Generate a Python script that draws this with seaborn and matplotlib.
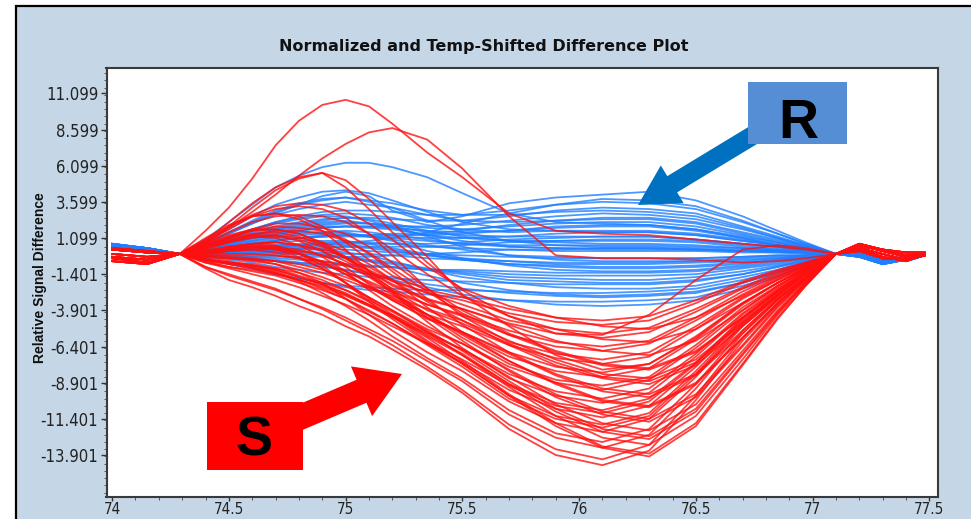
import matplotlib
matplotlib.use("Agg")
import matplotlib.pyplot as plt
import seaborn as sns
import pandas as pd
from matplotlib.patches import FancyArrow, Rectangle
from matplotlib.transforms import IdentityTransform
from matplotlib.ticker import MultipleLocator
from matplotlib import font_manager
from matplotlib.font_manager import FontProperties

# ---------------- data ----------------
X_GRID = [74.0, 74.15, 74.29, 74.4, 74.5, 74.6, 74.7, 74.8, 74.9, 75.0, 75.1, 75.2, 75.35,
          75.5, 75.7, 75.9, 76.1, 76.3, 76.5, 76.7, 76.85, 76.97, 77.1, 77.2, 77.3, 77.4, 77.48]

# "S" (red) difference curves
RED_CURVES = [
    [0.3, 0.1, 0.0, -1.0, -1.8, -2.3, -2.9, -3.6, -4.2, -5.0, -5.7, -6.6, -8.0, -9.6, -12.1, -13.9, -14.6, -13.6, -10.1, -6.0, -3.5, -1.8, 0.0, 0.6, 0.2, -0.2, 0.0],
    [-0.2, -0.4, 0.0, -0.9, -1.4, -1.9, -2.4, -3.1, -3.8, -4.6, -5.4, -6.3, -7.8, -9.4, -11.8, -13.5, -14.2, -13.2, -9.8, -5.8, -3.4, -1.7, 0.0, 0.4, 0.0, -0.4, -0.1],
    [0.0, -0.2, 0.0, -0.4, -0.6, -0.8, -1.1, -1.6, -2.1, -2.7, -3.5, -4.3, -5.8, -7.4, -9.7, -11.7, -13.3, -13.8, -11.7, -7.6, -4.4, -2.2, 0.0, 0.3, -0.2, -0.5, 0.0],
    [-0.5, -0.7, 0.0, -0.9, -1.5, -2.0, -2.5, -3.1, -3.7, -4.4, -5.2, -6.0, -7.4, -8.8, -11.1, -12.7, -13.4, -12.5, -9.3, -5.5, -3.2, -1.6, 0.0, 0.7, 0.3, 0.1, 0.1],
    [0.4, 0.2, 0.0, -0.5, -0.7, -0.9, -1.3, -1.9, -2.7, -3.6, -4.6, -5.7, -7.2, -8.6, -10.8, -12.4, -13.0, -12.1, -9.0, -5.3, -3.1, -1.6, 0.0, 0.5, 0.3, -0.1, 0.0],
    [-0.3, -0.6, 0.0, -0.3, -0.5, -0.8, -1.0, -1.5, -2.0, -2.5, -3.2, -4.0, -5.3, -6.7, -8.8, -10.7, -12.1, -12.6, -10.7, -6.9, -4.0, -2.0, 0.0, 0.2, -0.3, -0.4, -0.1],
    [0.3, 0.1, 0.0, -0.2, -0.3, -0.4, -0.7, -1.3, -2.0, -3.1, -4.2, -5.3, -6.8, -8.1, -10.2, -11.7, -12.3, -11.4, -8.5, -5.0, -3.0, -1.5, 0.0, 0.4, 0.0, -0.4, -0.1],
    [-0.2, -0.4, 0.0, -0.6, -0.9, -1.2, -1.5, -2.0, -2.5, -3.1, -3.9, -4.8, -6.3, -7.8, -10.0, -11.4, -12.0, -11.2, -8.3, -4.9, -2.9, -1.4, 0.0, 0.3, -0.2, -0.5, 0.0],
    [0.0, -0.2, 0.0, 0.1, 0.3, 0.5, 0.5, 0.3, -0.1, -0.7, -1.6, -2.6, -4.4, -6.0, -8.1, -9.9, -11.1, -11.6, -9.9, -6.4, -3.7, -1.9, 0.0, 0.7, 0.3, 0.1, 0.1],
    [-0.5, -0.7, 0.0, -0.6, -1.0, -1.4, -1.8, -2.3, -2.9, -3.5, -4.2, -5.0, -6.2, -7.5, -9.4, -10.7, -11.3, -10.5, -7.8, -4.6, -2.7, -1.4, 0.0, 0.5, 0.3, -0.1, 0.0],
    [0.4, 0.2, 0.0, 0.2, 0.5, 0.7, 0.6, 0.0, -0.8, -2.0, -3.3, -4.5, -6.1, -7.3, -9.1, -10.5, -11.0, -10.2, -7.6, -4.5, -2.6, -1.3, 0.0, 0.2, -0.3, -0.4, -0.1],
    [-0.3, -0.6, 0.0, 0.0, 0.0, 0.0, -0.1, -0.3, -0.7, -1.2, -2.0, -2.8, -4.2, -5.6, -7.4, -9.0, -10.2, -10.6, -9.0, -5.8, -3.4, -1.7, 0.0, 0.6, 0.2, -0.2, 0.0],
    [0.3, 0.1, 0.0, 0.1, 0.4, 0.7, 0.8, 0.6, 0.2, -0.5, -1.4, -2.7, -4.7, -6.5, -8.6, -9.8, -10.3, -9.6, -7.1, -4.2, -2.5, -1.2, 0.0, 0.3, -0.2, -0.5, 0.0],
    [-0.2, -0.4, 0.0, -0.4, -0.6, -0.8, -1.1, -1.6, -2.1, -2.8, -3.6, -4.4, -5.5, -6.6, -8.3, -9.5, -10.0, -9.3, -6.9, -4.1, -2.4, -1.2, 0.0, 0.7, 0.3, 0.1, 0.1],
    [0.0, -0.2, 0.0, 0.5, 1.1, 1.6, 1.9, 1.8, 1.6, 1.0, 0.0, -1.2, -3.1, -4.9, -6.8, -8.3, -9.3, -9.7, -8.3, -5.3, -3.1, -1.6, 0.0, 0.5, 0.3, -0.1, 0.0],
    [-0.5, -0.7, 0.0, 0.0, 0.2, 0.3, 0.1, -0.3, -1.0, -2.0, -3.0, -3.9, -5.2, -6.2, -7.8, -8.9, -9.4, -8.7, -6.5, -3.9, -2.3, -1.1, 0.0, 0.2, -0.3, -0.4, -0.1],
    [0.4, 0.2, 0.0, 0.0, 0.2, 0.3, 0.4, 0.2, -0.1, -0.7, -1.5, -2.6, -4.2, -5.8, -7.6, -8.7, -9.1, -8.5, -6.3, -3.7, -2.2, -1.1, 0.0, 0.6, 0.2, -0.2, 0.0],
    [-0.3, -0.6, 0.0, 1.1, 2.0, 2.6, 2.8, 2.4, 1.6, 0.3, -1.2, -2.5, -3.9, -4.8, -6.2, -7.5, -8.5, -8.8, -7.5, -4.8, -2.8, -1.4, 0.0, 0.4, 0.0, -0.4, -0.1],
    [0.3, 0.1, 0.0, -0.2, -0.3, -0.4, -0.5, -0.7, -1.1, -1.6, -2.2, -3.0, -4.2, -5.5, -7.1, -8.1, -8.5, -7.9, -5.9, -3.5, -2.0, -1.0, 0.0, 0.7, 0.3, 0.1, 0.1],
    [-0.2, -0.4, 0.0, 0.5, 1.0, 1.3, 1.3, 0.9, 0.2, -0.9, -2.1, -3.2, -4.5, -5.4, -6.8, -7.8, -8.2, -7.6, -5.7, -3.4, -2.0, -1.0, 0.0, 0.5, 0.3, -0.1, 0.0],
    [0.0, -0.2, 0.0, 0.6, 1.2, 1.7, 2.1, 2.1, 1.8, 1.4, 0.5, -0.6, -2.4, -3.9, -5.5, -6.7, -7.6, -7.9, -6.7, -4.4, -2.5, -1.3, 0.0, 0.2, -0.3, -0.4, -0.1],
    [-0.5, -0.7, 0.0, 0.1, 0.3, 0.5, 0.4, 0.0, -0.6, -1.4, -2.3, -3.1, -4.2, -5.0, -6.3, -7.2, -7.6, -7.1, -5.2, -3.1, -1.8, -0.9, 0.0, 0.6, 0.2, -0.2, 0.0],
    [0.4, 0.2, 0.0, 0.8, 1.7, 2.6, 3.1, 3.3, 3.1, 2.5, 1.4, -0.1, -2.4, -4.3, -6.1, -6.9, -7.3, -6.8, -5.0, -3.0, -1.8, -0.9, 0.0, 0.4, 0.0, -0.4, -0.1],
    [-0.3, -0.6, 0.0, 0.6, 1.1, 1.4, 1.5, 1.2, 0.6, -0.3, -1.2, -2.1, -3.1, -3.8, -4.9, -6.0, -6.7, -7.0, -6.0, -3.9, -2.2, -1.1, 0.0, 0.3, -0.2, -0.5, 0.0],
    [0.3, 0.1, 0.0, 0.4, 0.9, 1.3, 1.6, 1.6, 1.4, 0.9, 0.1, -1.0, -2.6, -4.1, -5.6, -6.4, -6.7, -6.2, -4.6, -2.8, -1.6, -0.8, 0.0, 0.5, 0.3, -0.1, 0.0],
    [-0.2, -0.4, 0.0, 0.1, 0.3, 0.4, 0.3, 0.0, -0.5, -1.2, -1.9, -2.6, -3.5, -4.2, -5.3, -6.1, -6.4, -6.0, -4.4, -2.6, -1.5, -0.8, 0.0, 0.2, -0.3, -0.4, -0.1],
    [0.0, -0.2, 0.0, 0.7, 1.5, 2.2, 2.6, 2.7, 2.6, 2.2, 1.4, 0.3, -1.4, -2.9, -4.3, -5.2, -5.9, -6.1, -5.2, -3.4, -2.0, -1.0, 0.0, 0.6, 0.2, -0.2, 0.0],
    [-0.5, -0.7, 0.0, 0.6, 1.2, 1.6, 1.7, 1.4, 0.8, -0.2, -1.2, -2.2, -3.2, -3.8, -4.8, -5.5, -5.8, -5.4, -4.0, -2.4, -1.4, -0.7, 0.0, 0.4, 0.0, -0.4, -0.1],
    [0.4, 0.2, 0.0, -0.1, -0.1, -0.1, -0.1, -0.3, -0.5, -0.8, -1.3, -1.8, -2.7, -3.5, -4.6, -5.2, -5.5, -5.1, -3.8, -2.3, -1.3, -0.7, 0.0, 0.3, -0.2, -0.5, 0.0],
    [-0.3, -0.6, 0.0, 0.9, 1.9, 2.7, 3.3, 3.5, 3.4, 3.0, 2.1, 1.0, -0.9, -2.4, -3.6, -4.4, -5.0, -5.2, -4.4, -2.9, -1.7, -0.8, 0.0, 0.7, 0.3, 0.1, 0.1],
    [0.3, 0.1, 0.0, 0.4, 0.8, 1.2, 1.2, 1.0, 0.5, -0.3, -1.1, -1.9, -2.7, -3.2, -4.1, -4.7, -4.9, -4.6, -3.4, -2.0, -1.2, -0.6, 0.0, 0.2, -0.3, -0.4, -0.1],
    [-0.2, -0.4, 0.0, 1.0, 1.9, 2.6, 2.8, 2.6, 1.9, 0.8, -0.4, -1.5, -2.5, -3.0, -3.8, -4.4, -4.6, -4.3, -3.2, -1.9, -1.1, -0.6, 0.0, 0.6, 0.2, -0.2, 0.0],
    [-0.5, -0.7, 0.0, -0.4, -0.6, -0.9, -1.2, -1.8, -2.4, -3.1, -4.0, -4.8, -6.2, -7.6, -9.8, -11.9, -13.4, -14.0, -11.9, -7.7, -4.5, -2.2, 0.0, 0.6, 0.2, -0.2, 0.0],
    [0.4, 0.2, 0.0, -0.2, -0.3, -0.5, -0.7, -1.1, -1.6, -2.2, -3.0, -3.9, -5.4, -7.0, -9.2, -11.2, -12.7, -13.2, -11.2, -7.3, -4.2, -2.1, 0.0, 0.4, 0.0, -0.4, -0.1],
    [-0.3, -0.6, 0.0, 0.2, 0.4, 0.5, 0.3, -0.2, -1.0, -2.0, -3.1, -4.2, -5.6, -6.9, -9.0, -10.9, -12.3, -12.8, -10.9, -7.0, -4.1, -2.0, 0.0, 0.3, -0.2, -0.5, 0.0],
    [0.3, 0.1, 0.0, -0.4, -0.7, -1.0, -1.3, -1.8, -2.3, -2.9, -3.6, -4.2, -5.4, -6.6, -8.5, -10.4, -11.7, -12.2, -10.4, -6.7, -3.9, -2.0, 0.0, 0.7, 0.3, 0.1, 0.1],
    [-0.2, -0.4, 0.0, -0.4, -0.6, -0.7, -1.0, -1.3, -1.8, -2.5, -3.3, -4.3, -6.0, -7.6, -9.8, -11.2, -11.8, -11.0, -8.1, -4.8, -2.8, -1.4, 0.0, 0.5, 0.3, -0.1, 0.0],
    [0.0, -0.2, 0.0, 0.5, 0.9, 1.2, 1.1, 0.6, -0.2, -1.2, -2.5, -3.6, -5.0, -6.2, -8.0, -9.7, -10.9, -11.4, -9.7, -6.3, -3.6, -1.8, 0.0, 0.2, -0.3, -0.4, -0.1],
    [-0.5, -0.7, 0.0, -0.5, -0.9, -1.1, -1.4, -1.8, -2.2, -2.8, -3.5, -4.3, -5.7, -7.0, -9.0, -10.3, -10.8, -10.0, -7.5, -4.4, -2.6, -1.3, 0.0, 0.6, 0.2, -0.2, 0.0],
    [0.4, 0.2, 0.0, 0.3, 0.8, 1.1, 1.3, 1.1, 0.8, 0.2, -0.7, -1.8, -3.7, -5.4, -7.4, -8.9, -10.1, -10.5, -8.9, -5.8, -3.4, -1.7, 0.0, 0.4, 0.0, -0.4, -0.1],
    [-0.3, -0.6, 0.0, 0.2, 0.5, 0.6, 0.5, 0.1, -0.6, -1.4, -2.3, -3.2, -4.4, -5.4, -6.9, -8.4, -9.5, -9.9, -8.4, -5.5, -3.2, -1.6, 0.0, 0.3, -0.2, -0.5, 0.0],
    [0.3, 0.1, 0.0, 0.2, 0.5, 0.7, 0.8, 0.6, 0.3, -0.2, -0.9, -1.8, -3.3, -4.6, -6.3, -7.7, -8.6, -9.0, -7.7, -5.0, -2.9, -1.4, 0.0, 0.7, 0.3, 0.1, 0.1],
    [-0.2, -0.4, 0.0, -0.1, -0.2, -0.3, -0.5, -0.9, -1.3, -1.8, -2.4, -2.9, -3.8, -4.6, -6.0, -7.3, -8.3, -8.6, -7.3, -4.7, -2.8, -1.4, 0.0, 0.5, 0.3, -0.1, 0.0],
    [0.0, -0.2, 0.0, 0.7, 1.3, 1.7, 1.7, 1.4, 0.7, -0.3, -1.4, -2.4, -3.5, -4.3, -5.6, -6.8, -7.7, -8.0, -6.8, -4.4, -2.6, -1.3, 0.0, 0.2, -0.3, -0.4, -0.1],
    [0.4, 0.2, 0.0, 1.6, 3.2, 5.2, 7.5, 9.2, 10.3, 10.65, 10.2, 9.0, 7.0, 5.3, 2.8, 1.6, 1.4, 1.3, 1.0, 0.7, 0.5, 0.3, 0.0, 0.7, 0.3, 0.1, 0.1],
    [0.3, 0.1, 0.0, 0.8, 1.8, 2.9, 4.1, 5.4, 6.6, 7.6, 8.4, 8.7, 7.9, 5.9, 2.6, -0.1, -0.3, -0.3, -0.4, -0.6, -0.5, -0.3, 0.0, 0.6, 0.2, -0.2, 0.0],
    [0.0, -0.2, 0.0, 0.9, 2.2, 3.5, 4.6, 5.3, 5.6, 4.6, 3.1, 1.5, -0.6, -2.5, -4.3, -5.5, -5.6, -4.2, -1.8, 0.3, 0.6, 0.4, 0.0, 0.4, 0.0, -0.4, -0.1],
    [-0.2, -0.4, 0.0, 0.7, 1.9, 3.2, 4.4, 5.2, 5.6, 5.1, 3.8, 2.2, -0.2, -2.8, -5.0, -7.0, -8.0, -7.6, -5.8, -3.4, -2.0, -1.0, 0.0, 0.5, 0.3, -0.1, 0.0],
]

# "R" (blue) difference curves
BLUE_CURVES = [
    [0.6, 0.4, 0.0, 1.0, 2.2, 3.4, 4.6, 5.4, 6.0, 6.3, 6.3, 6.0, 5.3, 4.2, 2.8, 2.2, 2.1, 2.0, 1.7, 1.1, 0.6, 0.3, 0.0, 0.0, -0.5, -0.4, 0.0],
    [0.5, 0.3, 0.0, 0.9, 1.7, 2.6, 3.4, 3.9, 4.3, 4.4, 4.2, 3.7, 2.9, 2.2, 1.7, 1.6, 1.5, 1.5, 1.3, 0.9, 0.6, 0.3, 0.0, -0.1, -0.6, -0.3, 0.0],
    [0.4, 0.2, 0.0, 0.8, 1.5, 2.3, 3.0, 3.5, 3.8, 3.9, 3.6, 3.2, 2.3, 1.5, 0.9, 0.6, 0.5, 0.5, 0.4, 0.3, 0.2, 0.1, 0.0, 0.1, -0.3, -0.5, -0.1],
    [0.7, 0.4, 0.0, 0.7, 1.4, 2.1, 2.8, 3.4, 4.0, 4.3, 4.0, 3.0, 2.2, 2.6, 3.5, 3.9, 4.1, 4.3, 3.7, 2.6, 1.6, 0.8, 0.0, 0.2, -0.4, -0.2, 0.0],
    [0.3, 0.1, 0.0, 0.6, 1.1, 1.7, 2.2, 2.6, 2.9, 3.0, 3.0, 2.9, 2.7, 2.7, 3.0, 3.4, 3.6, 3.5, 3.1, 2.2, 1.4, 0.7, 0.0, -0.2, -0.7, -0.4, -0.1],
    [0.5, 0.2, 0.0, 0.5, 0.9, 1.4, 1.8, 2.1, 2.3, 2.5, 2.5, 2.4, 2.3, 2.3, 2.6, 3.0, 3.2, 3.1, 2.8, 1.9, 1.2, 0.6, 0.0, 0.0, -0.5, -0.4, 0.0],
    [0.6, 0.4, 0.0, 0.4, 0.7, 1.1, 1.4, 1.6, 1.8, 1.9, 1.9, 1.9, 1.9, 2.0, 2.3, 2.6, 2.8, 2.7, 2.4, 1.7, 1.1, 0.5, 0.0, -0.1, -0.6, -0.3, 0.0],
    [0.5, 0.3, 0.0, 0.7, 1.4, 2.1, 2.7, 3.1, 3.4, 3.6, 3.4, 3.2, 2.7, 2.3, 2.2, 2.3, 2.4, 2.4, 2.1, 1.4, 0.9, 0.5, 0.0, 0.1, -0.3, -0.5, -0.1],
    [0.4, 0.2, 0.0, 0.2, 0.5, 0.7, 0.9, 1.1, 1.2, 1.3, 1.3, 1.3, 1.3, 1.4, 1.6, 1.9, 2.0, 2.0, 1.7, 1.2, 0.8, 0.4, 0.0, 0.2, -0.4, -0.2, 0.0],
    [0.7, 0.4, 0.0, 0.6, 1.1, 1.7, 2.2, 2.5, 2.7, 2.8, 2.7, 2.5, 2.0, 1.7, 1.5, 1.6, 1.6, 1.6, 1.4, 1.0, 0.6, 0.3, 0.0, -0.2, -0.7, -0.4, -0.1],
    [0.3, 0.1, 0.0, 0.1, 0.3, 0.4, 0.5, 0.6, 0.6, 0.7, 0.7, 0.7, 0.7, 0.8, 1.0, 1.1, 1.2, 1.2, 1.0, 0.7, 0.5, 0.2, 0.0, 0.0, -0.5, -0.4, 0.0],
    [0.5, 0.2, 0.0, 0.4, 0.8, 1.1, 1.5, 1.7, 1.9, 1.9, 1.8, 1.7, 1.3, 1.1, 0.9, 0.9, 0.9, 0.9, 0.8, 0.5, 0.3, 0.2, 0.0, -0.1, -0.6, -0.3, 0.0],
    [0.6, 0.4, 0.0, 0.3, 0.5, 0.8, 1.0, 1.1, 1.3, 1.3, 1.2, 1.1, 0.9, 0.7, 0.6, 0.6, 0.6, 0.6, 0.5, 0.4, 0.2, 0.1, 0.0, 0.1, -0.3, -0.5, -0.1],
    [0.5, 0.3, 0.0, 0.5, 0.9, 1.3, 1.7, 2.0, 2.2, 2.3, 2.1, 1.8, 1.3, 0.9, 0.5, 0.4, 0.3, 0.3, 0.3, 0.2, 0.1, 0.1, 0.0, 0.2, -0.4, -0.2, 0.0],
    [0.4, 0.2, 0.0, 0.2, 0.3, 0.5, 0.6, 0.7, 0.8, 0.8, 0.8, 0.7, 0.5, 0.4, 0.3, 0.2, 0.2, 0.2, 0.2, 0.1, 0.1, 0.0, 0.0, -0.2, -0.7, -0.4, -0.1],
    [0.7, 0.4, 0.0, 0.3, 0.6, 0.9, 1.1, 1.3, 1.4, 1.4, 1.2, 1.0, 0.6, 0.3, -0.1, -0.2, -0.3, -0.3, -0.3, -0.2, -0.1, -0.1, 0.0, 0.0, -0.5, -0.4, 0.0],
    [0.3, 0.1, 0.0, 0.0, 0.1, 0.1, 0.1, 0.1, 0.1, 0.0, 0.0, -0.1, -0.3, -0.4, -0.5, -0.6, -0.6, -0.6, -0.5, -0.4, -0.3, -0.1, 0.0, -0.1, -0.6, -0.3, 0.0],
    [0.5, 0.2, 0.0, 0.2, 0.3, 0.5, 0.6, 0.6, 0.7, 0.6, 0.5, 0.3, -0.1, -0.4, -0.7, -0.8, -0.9, -0.9, -0.8, -0.6, -0.4, -0.2, 0.0, 0.1, -0.3, -0.5, -0.1],
    [0.6, 0.4, 0.0, 0.3, 0.7, 1.0, 1.3, 1.5, 1.5, 1.5, 1.2, 0.9, 0.2, -0.3, -0.8, -1.1, -1.2, -1.2, -1.1, -0.8, -0.5, -0.3, 0.0, 0.2, -0.4, -0.2, 0.0],
    [0.5, 0.3, 0.0, -0.1, -0.2, -0.2, -0.3, -0.4, -0.5, -0.7, -0.8, -0.9, -1.1, -1.2, -1.4, -1.5, -1.5, -1.5, -1.4, -1.0, -0.7, -0.3, 0.0, -0.2, -0.7, -0.4, -0.1],
    [0.4, 0.2, 0.0, 0.0, 0.1, 0.1, 0.1, 0.0, -0.1, -0.2, -0.4, -0.6, -1.0, -1.3, -1.6, -1.7, -1.8, -1.8, -1.6, -1.2, -0.8, -0.4, 0.0, 0.0, -0.5, -0.4, 0.0],
    [0.7, 0.4, 0.0, -0.2, -0.4, -0.6, -0.9, -1.1, -1.3, -1.4, -1.6, -1.7, -1.8, -1.9, -2.0, -2.1, -2.1, -2.1, -1.9, -1.4, -0.9, -0.5, 0.0, -0.1, -0.6, -0.3, 0.0],
    [0.3, 0.1, 0.0, 0.1, 0.2, 0.3, 0.4, 0.4, 0.3, 0.1, -0.1, -0.5, -1.1, -1.6, -2.0, -2.3, -2.4, -2.4, -2.2, -1.6, -1.1, -0.5, 0.0, 0.1, -0.3, -0.5, -0.1],
    [0.5, 0.2, 0.0, -0.3, -0.7, -1.0, -1.4, -1.7, -2.0, -2.2, -2.3, -2.4, -2.5, -2.5, -2.6, -2.7, -2.7, -2.6, -2.4, -1.8, -1.2, -0.6, 0.0, 0.2, -0.4, -0.2, 0.0],
    [0.6, 0.4, 0.0, -0.1, -0.2, -0.4, -0.5, -0.7, -0.9, -1.1, -1.4, -1.6, -2.1, -2.4, -2.7, -2.9, -3.0, -2.9, -2.7, -2.0, -1.3, -0.7, 0.0, -0.2, -0.7, -0.4, -0.1],
    [0.5, 0.3, 0.0, -0.3, -0.7, -1.0, -1.4, -1.7, -2.0, -2.3, -2.5, -2.6, -2.8, -3.0, -3.2, -3.3, -3.3, -3.2, -3.0, -2.2, -1.5, -0.7, 0.0, 0.0, -0.5, -0.4, 0.0],
    [0.4, 0.2, 0.0, -0.1, -0.2, -0.3, -0.4, -0.6, -0.8, -1.1, -1.4, -1.8, -2.3, -2.8, -3.2, -3.5, -3.6, -3.5, -3.2, -2.4, -1.6, -0.8, 0.0, -0.1, -0.6, -0.3, 0.0],
    [0.7, 0.4, 0.0, 0.4, 0.7, 1.1, 1.4, 1.6, 1.8, 1.9, 1.9, 1.8, 1.6, 1.5, 1.6, 1.8, 1.9, 1.9, 1.6, 1.1, 0.7, 0.4, 0.0, 0.1, -0.3, -0.5, -0.1],
    [0.3, 0.1, 0.0, 0.5, 1.1, 1.6, 2.1, 2.4, 2.6, 2.6, 2.3, 1.9, 1.2, 0.5, -0.1, -0.4, -0.5, -0.5, -0.5, -0.3, -0.2, -0.1, 0.0, 0.2, -0.4, -0.2, 0.0],
    [0.5, 0.2, 0.0, -0.1, -0.1, -0.2, -0.2, -0.2, -0.2, -0.2, -0.2, -0.1, 0.0, 0.1, 0.3, 0.3, 0.4, 0.4, 0.3, 0.2, 0.2, 0.1, 0.0, -0.2, -0.7, -0.4, -0.1],
    [0.6, 0.4, 0.0, 0.2, 0.5, 0.7, 0.9, 1.1, 1.2, 1.3, 1.3, 1.4, 1.4, 1.6, 2.0, 2.3, 2.5, 2.5, 2.2, 1.5, 1.0, 0.5, 0.0, 0.0, -0.5, -0.4, 0.0],
    [0.5, 0.3, 0.0, 0.1, 0.2, 0.2, 0.3, 0.4, 0.4, 0.5, 0.5, 0.5, 0.5, 0.6, 0.8, 0.9, 1.0, 1.0, 0.9, 0.6, 0.4, 0.2, 0.0, -0.1, -0.6, -0.3, 0.0],
    [0.4, 0.2, 0.0, 0.2, 0.4, 0.6, 0.8, 0.9, 0.9, 0.9, 0.7, 0.4, 0.0, -0.4, -0.7, -0.9, -1.0, -1.0, -0.9, -0.7, -0.4, -0.2, 0.0, 0.1, -0.3, -0.5, -0.1],
    [0.6, 0.4, 0.0, 0.2, 0.5, 0.7, 0.9, 1.1, 1.2, 1.2, 1.2, 1.2, 1.1, 1.1, 1.2, 1.4, 1.5, 1.5, 1.3, 0.9, 0.6, 0.3, 0.0, 0.0, -0.5, -0.4, 0.0],
    [0.5, 0.3, 0.0, 0.5, 1.0, 1.5, 1.9, 2.2, 2.4, 2.5, 2.4, 2.1, 1.6, 1.2, 0.9, 0.8, 0.7, 0.7, 0.6, 0.4, 0.3, 0.1, 0.0, -0.1, -0.6, -0.3, 0.0],
    [0.4, 0.2, 0.0, 0.1, 0.1, 0.2, 0.2, 0.3, 0.3, 0.3, 0.2, 0.1, 0.0, -0.1, -0.2, -0.3, -0.3, -0.3, -0.3, -0.2, -0.1, -0.1, 0.0, 0.1, -0.3, -0.5, -0.1],
    [0.7, 0.4, 0.0, 0.4, 0.8, 1.2, 1.6, 1.8, 2.0, 2.1, 2.1, 2.0, 1.8, 1.7, 1.9, 2.1, 2.2, 2.2, 1.9, 1.3, 0.8, 0.4, 0.0, 0.2, -0.4, -0.2, 0.0],
    [0.3, 0.1, 0.0, 0.1, 0.3, 0.4, 0.5, 0.5, 0.5, 0.5, 0.4, 0.2, -0.1, -0.3, -0.5, -0.7, -0.7, -0.7, -0.6, -0.5, -0.3, -0.2, 0.0, -0.2, -0.7, -0.4, -0.1],
    [0.5, 0.2, 0.0, 0.4, 0.9, 1.3, 1.7, 1.9, 2.1, 2.2, 2.1, 1.9, 1.5, 1.3, 1.2, 1.2, 1.2, 1.2, 1.0, 0.7, 0.5, 0.2, 0.0, 0.0, -0.5, -0.4, 0.0],
    [0.6, 0.4, 0.0, -0.1, -0.2, -0.3, -0.5, -0.6, -0.7, -0.8, -0.9, -0.9, -1.1, -1.1, -1.2, -1.3, -1.3, -1.3, -1.2, -0.9, -0.6, -0.3, 0.0, -0.1, -0.6, -0.3, 0.0],
    [0.5, 0.3, 0.0, 0.3, 0.6, 0.9, 1.2, 1.4, 1.5, 1.6, 1.5, 1.3, 1.0, 0.7, 0.5, 0.4, 0.4, 0.4, 0.3, 0.2, 0.2, 0.1, 0.0, 0.1, -0.3, -0.5, -0.1],
    [0.4, 0.2, 0.0, 0.0, 0.0, 0.0, 0.0, 0.0, -0.1, -0.3, -0.5, -0.7, -1.1, -1.4, -1.8, -1.9, -2.0, -2.0, -1.8, -1.4, -0.9, -0.4, 0.0, 0.2, -0.4, -0.2, 0.0],
    [0.7, 0.4, 0.0, 0.7, 1.5, 2.2, 2.9, 3.4, 3.7, 3.9, 3.7, 3.5, 3.0, 2.7, 2.7, 2.9, 3.0, 2.9, 2.6, 1.8, 1.1, 0.6, 0.0, -0.2, -0.7, -0.4, -0.1],
    [0.3, 0.1, 0.0, 0.1, 0.2, 0.4, 0.5, 0.6, 0.7, 0.8, 0.9, 1.1, 1.5, 2.1, 2.8, 3.4, 3.8, 3.7, 3.3, 2.3, 1.4, 0.7, 0.0, 0.0, -0.5, -0.4, 0.0],
    [0.5, 0.2, 0.0, 0.1, 0.2, 0.2, 0.2, 0.2, 0.0, -0.2, -0.5, -0.9, -1.5, -2.0, -2.5, -2.8, -2.9, -2.8, -2.6, -2.0, -1.3, -0.6, 0.0, -0.1, -0.6, -0.3, 0.0],
]

Y_TICKS = [11.099, 8.599, 6.099, 3.599, 1.099, -1.401, -3.901, -6.401, -8.901, -11.401, -13.901]
Y_TICK_LABELS = ["11.099", "8.599", "6.099", "3.599", "1.099", "-1.401", "-3.901",
                 "-6.401", "-8.901", "-11.401", "-13.901"]
X_TICKS = [74, 74.5, 75, 75.5, 76, 76.5, 77, 77.5]
X_TICK_LABELS = ["74", "74.5", "75", "75.5", "76", "76.5", "77", "77.5"]

TITLE = "Normalized and Temp-Shifted Difference Plot"
Y_LABEL = "Relative Signal Difference"

for c in RED_CURVES + BLUE_CURVES:
    assert len(c) == len(X_GRID), len(c)

rows = []
for i, c in enumerate(BLUE_CURVES):
    for x, y in zip(X_GRID, c):
        rows.append(("R", f"B{i}", x, y))
for i, c in enumerate(RED_CURVES):
    for x, y in zip(X_GRID, c):
        rows.append(("S", f"S{i}", x, y))
df = pd.DataFrame(rows, columns=["group", "curve", "x", "y"])

# ---------------- fonts ----------------
narrow_file = None
for f in font_manager.fontManager.ttflist:
    nm = f.name + " " + f.fname
    if ("Narrow" in nm or "Condensed" in nm or str(f.stretch) in ("condensed", "semi-condensed")) \
            and str(f.style) == "normal" and f.weight in (400, "normal", "regular"):
        narrow_file = f.fname
        break
if narrow_file:
    Y_FP = FontProperties(fname=narrow_file, size=12)
    X_FP = FontProperties(fname=narrow_file, size=11)
else:
    Y_FP = FontProperties(family="Liberation Sans", size=11)
    X_FP = FontProperties(family="Liberation Sans", size=10)

# ---------------- figure ----------------
W, H = 971, 519
fig = plt.figure(figsize=(W / 100, H / 100), dpi=100)
fig.patch.set_facecolor("white")
ID = IdentityTransform()

panel = Rectangle((16, -10), W + 10, H - 6 + 10, facecolor="#c5d6e7", edgecolor="black",
                  linewidth=1.6, transform=ID, zorder=-5)
fig.add_artist(panel)

ax = fig.add_axes([106.5 / W, 1 - 496.7 / H, (938 - 106.5) / W, (496.7 - 68.3) / H])
ax.set_facecolor("white")

sns.lineplot(data=df[df.group == "R"], x="x", y="y", units="curve", estimator=None,
             sort=False, color="#1f7fff", linewidth=1.3, alpha=0.8, ax=ax, legend=False)
sns.lineplot(data=df[df.group == "S"], x="x", y="y", units="curve", estimator=None,
             sort=False, color="#ff1010", linewidth=1.3, alpha=0.8, ax=ax, legend=False)

ax.set_xlim(73.976, 77.537)
ax.set_ylim(-16.78, 12.83)
ax.set_xticks(X_TICKS)
ax.set_xticklabels(X_TICK_LABELS)
ax.set_yticks(Y_TICKS)
ax.set_yticklabels(Y_TICK_LABELS)
ax.yaxis.set_minor_locator(MultipleLocator(0.5))
ax.xaxis.set_minor_locator(MultipleLocator(0.1))
ax.tick_params(which="major", direction="out", length=4, width=1, color="#333333",
               labelcolor="#222222", pad=2)
ax.tick_params(axis="x", which="major", length=3, pad=0.5)
ax.tick_params(which="minor", direction="out", length=2, width=0.7, color="#555555")
for lbl in ax.get_xticklabels():
    lbl.set_fontproperties(X_FP)
for lbl in ax.get_yticklabels():
    lbl.set_fontproperties(Y_FP)
ax.set_xlabel("")
ax.set_ylabel("")
ax.grid(False)
for s in ax.spines.values():
    s.set_color("#3a3a3a")
    s.set_linewidth(1.5)

fig.text(484 / W, 1 - 47 / H, TITLE, ha="center", va="center", fontsize=11.5,
         fontweight="bold", family="DejaVu Sans", color="#111111")
fig.text(40 / W, 1 - 278 / H, Y_LABEL, rotation=90, ha="center", va="center",
         fontsize=10, fontweight="bold", family="Liberation Sans", color="#111111")

# ---------------- R / S call-outs ----------------
fig.add_artist(FancyArrow(770, H - 125, -132, -80, width=19, head_width=44, head_length=40,
                          length_includes_head=True, color="#0070c0", linewidth=0,
                          transform=ID, zorder=5))
fig.add_artist(Rectangle((748, H - 144), 99, 62, facecolor="#558ed5", edgecolor="none",
                         transform=ID, zorder=6))
fig.text(798.5, H - 138, "R", transform=ID, ha="center", va="baseline", fontsize=40,
         fontweight="bold", family="Liberation Sans", color="black", zorder=7)

fig.add_artist(FancyArrow(280, H - 426, 122, 52, width=25, head_width=54, head_length=44,
                          length_includes_head=True, color="#ff0000", linewidth=0,
                          transform=ID, zorder=5))
fig.add_artist(Rectangle((207, H - 470), 96, 68, facecolor="#ff0000", edgecolor="none",
                         transform=ID, zorder=6))
fig.text(254, H - 456, "S", transform=ID, ha="center", va="baseline", fontsize=40,
         fontweight="bold", family="Liberation Sans", color="black", zorder=7)

fig.savefig("out.png", dpi=100, facecolor=fig.get_facecolor())
